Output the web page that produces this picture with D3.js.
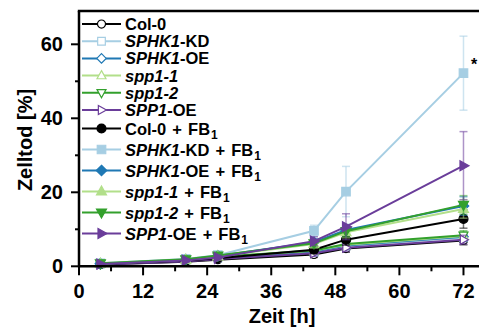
<!DOCTYPE html>
<html><head><meta charset="utf-8">
<script src="https://cdn.jsdelivr.net/npm/d3@7"></script>
<style>body{margin:0;background:#fff}svg{display:block;font-family:"Liberation Sans",Arial,sans-serif}</style>
</head><body>
<svg id="c" width="479" height="329"></svg>
<script>
const times = [4, 20, 26, 44, 50, 72];
const xTicks = [0, 12, 24, 36, 48, 60, 72];
const yTicks = [0, 20, 40, 60];
const seriesNames = ["Col-0","SPHK1-KD","SPHK1-OE","spp1-1","spp1-2","SPP1-OE",
  "Col-0 + FB1","SPHK1-KD + FB1","SPHK1-OE + FB1","spp1-1 + FB1","spp1-2 + FB1","SPP1-OE + FB1"];
const colCol0 = [0.5, 1.2, 1.8, 3.2, 4.8, 7.0];
const colKD   = [0.6, 1.5, 2.2, 3.8, 5.5, 7.8];
const colOE   = [0.6, 1.5, 2.3, 4.0, 5.6, 8.0];
const colSpp11= [0.7, 1.6, 2.5, 4.2, 5.8, 8.2];
const colSpp12= [0.7, 1.7, 2.6, 4.3, 6.0, 8.4];
const colSPP1OE=[0.5, 1.3, 2.0, 3.5, 5.0, 7.2];
const fbCol0  = [0.6, 1.5, 2.2, 4.5, 7.2, 12.8];
const fbKD    = [0.8, 2.0, 3.0, 9.6, 20.2, 52.2];
const fbOE    = [0.7, 1.8, 2.8, 6.5, 9.8, 16.3];
const fbSpp11 = [0.7, 1.8, 2.7, 6.0, 9.2, 15.5];
const fbSpp12 = [0.8, 1.9, 2.9, 6.2, 9.5, 16.6];
const fbSPP1OE= [0.6, 1.6, 2.4, 6.8, 10.7, 27.2];
const errSmall = [0.2, 0.4, 0.5, 0.8, 1.0, 1.2];
const errFbMid = [0.2, 0.4, 0.6, 1.0, 1.5, 2.5];
const errFbKD  = [0.3, 0.5, 0.8, 1.5, 6.8, 10.0];
const errFbSPP = [0.3, 0.5, 0.6, 1.2, 3.5, 9.2];

const values = [colCol0,colKD,colOE,colSpp11,colSpp12,colSPP1OE,fbCol0,fbKD,fbOE,fbSpp11,fbSpp12,fbSPP1OE];
const errors = [errSmall,errSmall,errSmall,errSmall,errSmall,errSmall,errFbMid,errFbKD,errFbMid,errFbMid,errFbMid,errFbSPP];
const colors = ["#000000","#a6cee3","#1f78b4","#b2df8a","#33a02c","#6a3d9a"];
const shapes = ["circle","square","diamond","up","down","right"];

const svg = d3.select("#c");
const x = d3.scaleLinear().domain([0, 75]).range([79, 479.5]);
const y = d3.scaleLinear().domain([0, 69]).range([266.3, 11]);

function markerPath(shape, s){
  const r = s/2;
  switch(shape){
    case "circle": return d3.symbol(d3.symbolCircle, Math.PI*r*r*0.8)();
    case "square": return `M${-r*0.85},${-r*0.85}H${r*0.85}V${r*0.85}H${-r*0.85}Z`;
    case "diamond": return `M0,${-r*1.05}L${r*1.05},0L0,${r*1.05}L${-r*1.05},0Z`;
    case "up": return `M0,${-r*1.1}L${r},${r*0.7}L${-r},${r*0.7}Z`;
    case "down": return `M0,${r*1.1}L${r},${-r*0.7}L${-r},${-r*0.7}Z`;
    case "right": return `M${r*1.1},0L${-r*0.7},${r}L${-r*0.7},${-r}Z`;
  }
}

// series
const plot = svg.append("g");
const line = d3.line().x((d,i)=>x(times[i])).y(d=>y(d));
values.forEach((vals, k)=>{
  const ci = k%6, filled = k>=6;
  const col = colors[ci];
  const g = plot.append("g");
  vals.forEach((v,i)=>{
    const e = errors[k][i], cx = x(times[i]);
    g.append("line").attr("x1",cx).attr("x2",cx).attr("y1",y(v+e)).attr("y2",y(Math.max(0,v-e)))
      .attr("stroke",col).attr("stroke-opacity",0.55).attr("stroke-width",1.5);
    [v+e, Math.max(0,v-e)].forEach(w=>g.append("line").attr("x1",cx-4).attr("x2",cx+4).attr("y1",y(w)).attr("y2",y(w))
      .attr("stroke",col).attr("stroke-opacity",0.55).attr("stroke-width",1.5));
  });
  g.append("path").attr("d",line(vals)).attr("fill","none").attr("stroke",col).attr("stroke-width",2);
  g.selectAll("path.m").data(vals).join("path").attr("class","m")
    .attr("transform",(d,i)=>`translate(${x(times[i])},${y(d)})`)
    .attr("d",markerPath(shapes[ci], filled?10:9))
    .attr("fill", filled?col:"#fff").attr("stroke",col).attr("stroke-width",1.2);
});

// axes
const ax = svg.append("g").attr("stroke","#000");
ax.append("line").attr("x1",x(0)).attr("x2",479).attr("y1",y(0)).attr("y2",y(0)).attr("stroke-width",2.5);
ax.append("line").attr("x1",x(0)).attr("x2",x(0)).attr("y1",y(0)+1).attr("y2",y(69)).attr("stroke-width",2.5);
ax.append("line").attr("x1",x(0)-1.2).attr("x2",479).attr("y1",y(69)).attr("y2",y(69)).attr("stroke-width",2.5);
xTicks.forEach(t=>ax.append("line").attr("x1",x(t)).attr("x2",x(t)).attr("y1",y(0)).attr("y2",y(0)+9).attr("stroke-width",2));
xTicks.slice(0,-1).forEach(t=>ax.append("line").attr("x1",x(t+6)).attr("x2",x(t+6)).attr("y1",y(0)).attr("y2",y(0)+5).attr("stroke-width",2));
yTicks.forEach(t=>ax.append("line").attr("x1",x(0)-8).attr("x2",x(0)).attr("y1",y(t)).attr("y2",y(t)).attr("stroke-width",2));
[10,30,50].forEach(t=>ax.append("line").attr("x1",x(0)-4).attr("x2",x(0)).attr("y1",y(t)).attr("y2",y(t)).attr("stroke-width",2));

const txt = svg.append("g").attr("font-weight","bold").attr("fill","#000");
xTicks.forEach(t=>txt.append("text").attr("x",x(t)).attr("y",298).attr("text-anchor","middle").attr("font-size",20).text(t));
yTicks.forEach(t=>txt.append("text").attr("x",63).attr("y",y(t)+7).attr("text-anchor","end").attr("font-size",20).text(t));
txt.append("text").attr("x",282).attr("y",323).attr("text-anchor","middle").attr("font-size",20).text("Zeit [h]");
txt.append("text").attr("transform","translate(32,140) rotate(-90)").attr("text-anchor","middle").attr("font-size",20).text("Zelltod [%]");
txt.append("text").attr("x",471).attr("y",70).attr("font-size",16).text("*");

// legend
const legY = [24, 41.2, 58.4, 75.6, 92.8, 110, 128.5, 149.5, 170.5, 191.5, 212.5, 233.5];
const leg = svg.append("g");
seriesNames.forEach((name,k)=>{
  const ci = k%6, filled = k>=6, col = colors[ci], yy = legY[k];
  leg.append("line").attr("x1",82).attr("x2",121).attr("y1",yy).attr("y2",yy).attr("stroke",col).attr("stroke-width",2);
  leg.append("path").attr("transform",`translate(101.5,${yy})`).attr("d",markerPath(shapes[ci], filled?10:9))
    .attr("fill",filled?col:"#fff").attr("stroke",col).attr("stroke-width",1.2);
  const t = leg.append("text").attr("x",125).attr("y",yy+6).attr("font-size",16.5).attr("font-weight","bold");
  const base = name.replace(" + FB1","");
  const m = base.match(/^(SPHK1|SPP1)(-.*)$/);
  if (m){ t.append("tspan").attr("font-style","italic").text(m[1]); t.append("tspan").text(m[2]); }
  else if (/^spp1/.test(base)) t.append("tspan").attr("font-style","italic").text(base);
  else t.append("tspan").text(base);
  if (filled){ t.append("tspan").attr("dx",1.5).text(" + "); t.append("tspan").attr("dx",1.5).text("FB"); t.append("tspan").attr("font-size",12).attr("dx",1).attr("dy",4).text("1"); }
});
</script>
</body></html>
